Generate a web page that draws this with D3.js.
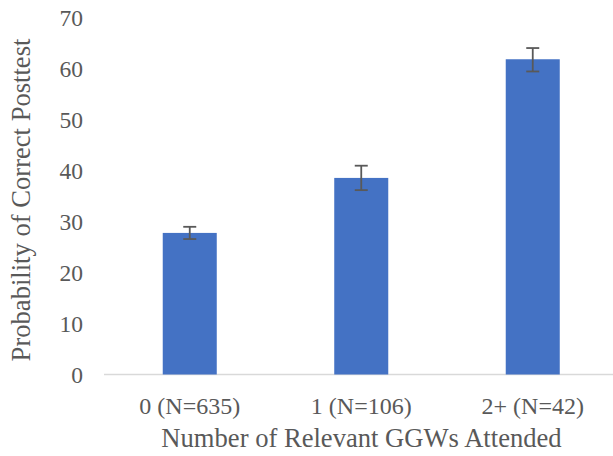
<!DOCTYPE html>
<html><head><meta charset="utf-8">
<script src="https://cdn.jsdelivr.net/npm/d3@7"></script>
<style>body{margin:0;background:#fff} text{font-family:"Liberation Serif","Times New Roman",Times,serif}</style>
</head><body>
<svg id="c" width="613" height="456"></svg>
<script>
const categories = ["0 (N=635)", "1 (N=106)", "2+ (N=42)"];
const values = [27.8, 38.6, 61.9];
const errLow = [26.6, 36.2, 59.5];
const errHigh = [29.0, 41.0, 64.1];
const yTicks = [0, 10, 20, 30, 40, 50, 60, 70];
const xTitle = "Number of Relevant GGWs Attended";
const yTitle = "Probability of Correct Posttest";

const svg = d3.select("#c");
const grey = "#595959";
const x = d3.scaleBand().domain(categories).range([104, 618.5]).paddingInner(0.685).paddingOuter(0.3425);
const y = d3.scaleLinear().domain([0, 70]).range([374.5, 18]);

// axis line
svg.append("line").attr("x1", 104).attr("x2", 613).attr("y1", y(0)).attr("y2", y(0))
  .attr("stroke", "#d9d9d9").attr("stroke-width", 1.3);

// y ticks
svg.selectAll(".yt").data(yTicks).enter().append("text")
  .attr("x", 83).attr("y", d => y(d)).attr("dy", "0.35em")
  .attr("text-anchor", "end").attr("font-size", 23.5)
  .attr("fill", grey).text(d => d);

// bars
svg.selectAll(".bar").data(values).enter().append("rect")
  .attr("x", (d, i) => x(categories[i])).attr("width", x.bandwidth())
  .attr("y", d => y(d)).attr("height", d => y(0) - y(d)).attr("fill", "#4472C4");

// error bars
const eb = svg.selectAll(".eb").data(values).enter().append("g")
  .attr("stroke", grey).attr("stroke-width", 1.8);
eb.append("line").attr("x1", (d, i) => x(categories[i]) + x.bandwidth() / 2)
  .attr("x2", (d, i) => x(categories[i]) + x.bandwidth() / 2)
  .attr("y1", (d, i) => y(errLow[i])).attr("y2", (d, i) => y(errHigh[i]));
[errLow, errHigh].forEach(arr => {
  eb.append("line").attr("x1", (d, i) => x(categories[i]) + x.bandwidth() / 2 - 6.5)
    .attr("x2", (d, i) => x(categories[i]) + x.bandwidth() / 2 + 6.5)
    .attr("y1", (d, i) => y(arr[i])).attr("y2", (d, i) => y(arr[i]));
});

// x labels
svg.selectAll(".xl").data(categories).enter().append("text")
  .attr("x", d => x(d) + x.bandwidth() / 2).attr("y", 414)
  .attr("text-anchor", "middle").attr("font-size", 24)
  .attr("fill", grey).text(d => d);

// titles
svg.append("text").attr("x", 361.5).attr("y", 447).attr("text-anchor", "middle")
  .attr("font-size", 26.6).attr("fill", grey).text(xTitle);
svg.append("text").attr("transform", "translate(30,200) rotate(-90)").attr("text-anchor", "middle")
  .attr("font-size", 26.6).attr("fill", grey).text(yTitle);
</script>
</body></html>
